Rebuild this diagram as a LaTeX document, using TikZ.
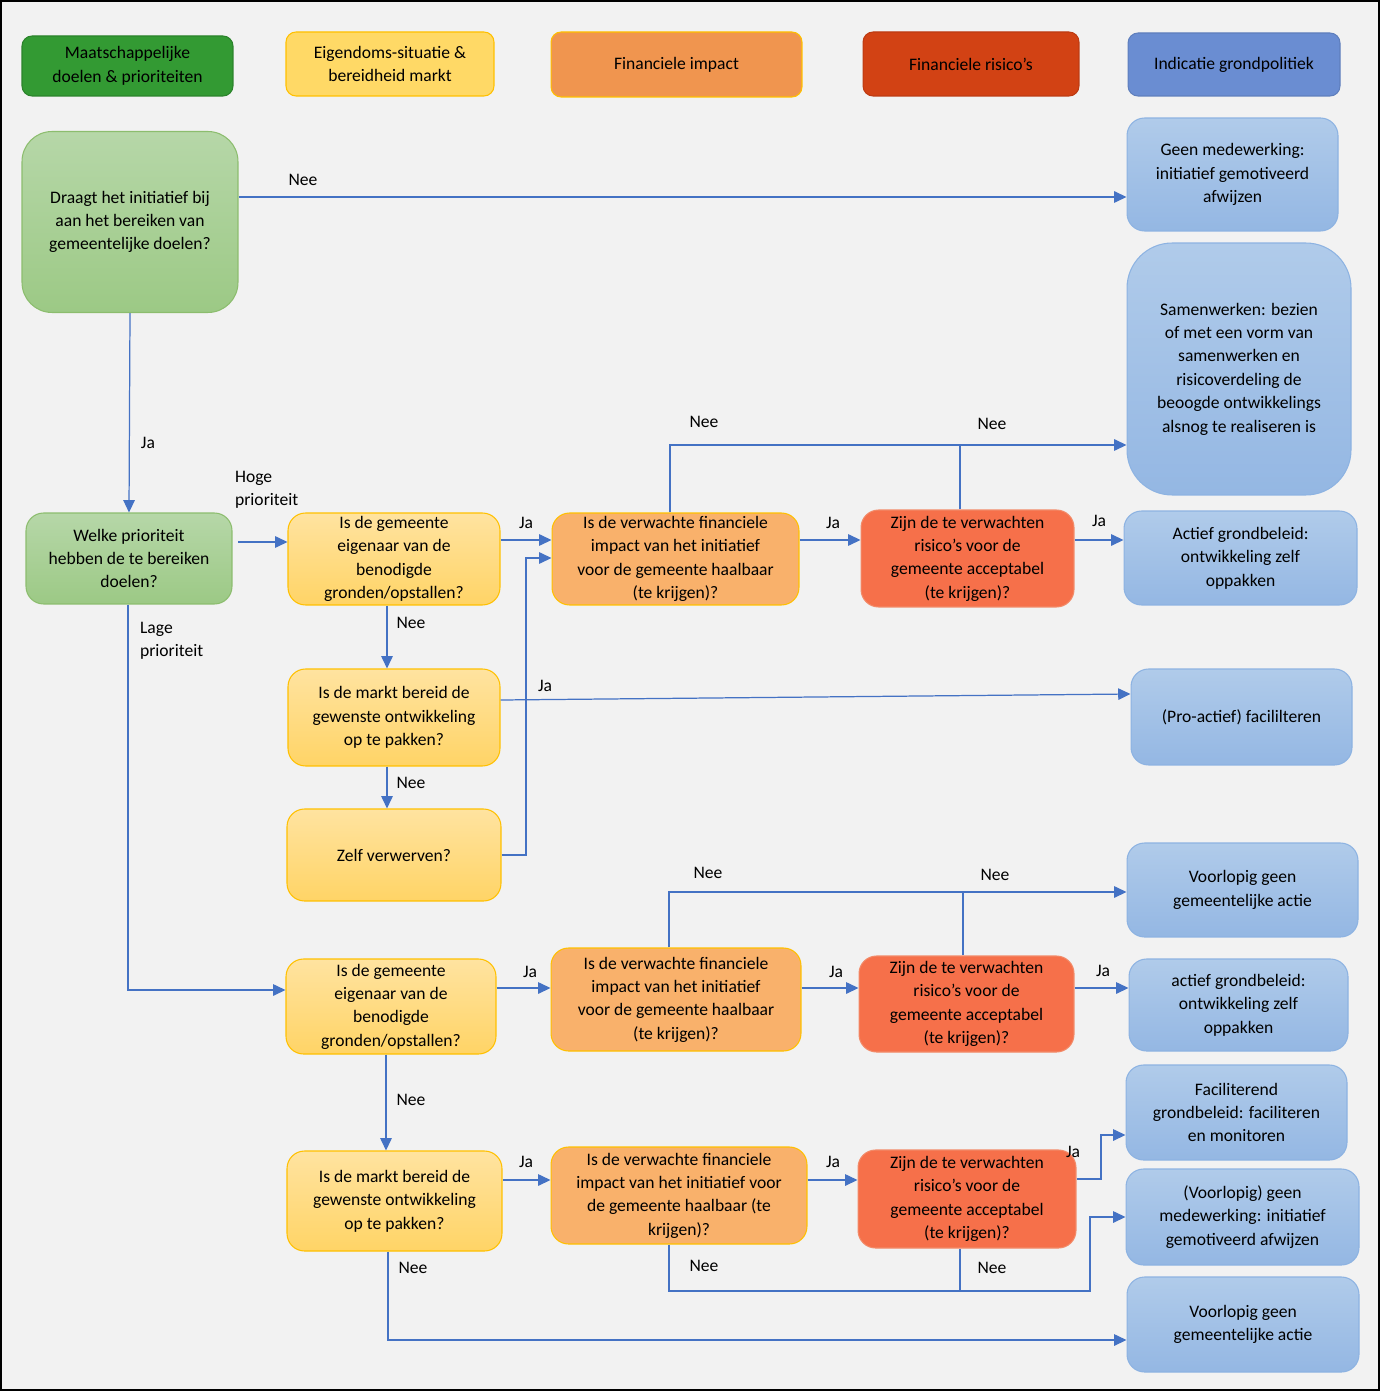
\documentclass[tikz,border=0pt]{standalone}
\usepackage{fontspec}
\setmainfont{Carlito}
\usepackage{xcolor}
\usepackage{tikz}
\usetikzlibrary{arrows.meta}
\definecolor{bgcol}{HTML}{F2F2F2}
\definecolor{linecol}{HTML}{4472C4}
\definecolor{hgreen}{HTML}{339A33}
\definecolor{hyellow}{HTML}{FFD966}
\definecolor{horange}{HTML}{F0954F}
\definecolor{hred}{HTML}{D24214}
\definecolor{hblue}{HTML}{6A8DD2}
\definecolor{gtop}{HTML}{B6D7A8}
\definecolor{gbot}{HTML}{9CC985}
\definecolor{gedge}{HTML}{8CBD6E}
\definecolor{ytop}{HTML}{FFE3A0}
\definecolor{ybot}{HTML}{FFD466}
\definecolor{yedge}{HTML}{FFC000}
\definecolor{ofill}{HTML}{F9B16B}
\definecolor{rfill}{HTML}{F6704A}
\definecolor{redge}{HTML}{F28A68}
\definecolor{btop}{HTML}{B0CBEA}
\definecolor{bbot}{HTML}{94B7E3}
\definecolor{bedge}{HTML}{8DB3E2}

\tikzset{
  every node/.style={font=\fontsize{10}{13.3}\selectfont, text=black},
  hdr/.style={draw, rounded corners=0.2cm, align=center, inner sep=0pt, line width=0.6pt},
  grnbox/.style={draw=gedge, top color=gtop, bottom color=gbot, rounded corners=0.35cm, align=center, inner sep=0pt, line width=0.6pt},
  yelbox/.style={draw=yedge, top color=ytop, bottom color=ybot, rounded corners=0.35cm, align=center, inner sep=0pt, line width=0.6pt},
  orabox/.style={draw=yedge, fill=ofill, rounded corners=0.35cm, align=center, inner sep=0pt, line width=0.6pt},
  redbox/.style={draw=redge, fill=rfill, rounded corners=0.35cm, align=center, inner sep=0pt, line width=0.6pt},
  blubox/.style={draw=bedge, top color=btop, bottom color=bbot, rounded corners=0.35cm, align=center, inner sep=0pt, line width=0.6pt},
  conn/.style={draw=linecol, line width=0.7pt, -{Triangle[length=7pt,width=6.5pt]}},
  plain/.style={draw=linecol, line width=0.7pt},
  lbl/.style={inner sep=1pt}
}

\begin{document}
\begin{tikzpicture}[x=0.02cm,y=-0.02cm]
\useasboundingbox (0,0) rectangle (1380,1391);
\fill[bgcol] (0,0) rectangle (1380,1391);
\draw[black,line width=1.1pt] (1,1) rectangle (1379,1390);

% header row
\node[hdr,draw=hgreen!85!black,fill=hgreen,minimum width=4.22cm,minimum height=1.2cm] (h1) at (127.5,66) {Maatschappelijke\\doelen \& prioriteiten};
\node[hdr,draw=yedge,fill=hyellow,minimum width=4.16cm,minimum height=1.28cm] (h2) at (390,64) {Eigendoms-situatie \&\\bereidheid markt};
\node[hdr,draw=yedge,fill=horange,minimum width=5.02cm,minimum height=1.3cm] (h3) at (676.5,64.5) {Financiele impact};
\node[hdr,draw=hred!90!black,fill=hred,minimum width=4.32cm,minimum height=1.28cm] (h4) at (971,64) {Financiele risico's};
\node[hdr,draw=hblue!90!black,fill=hblue,minimum width=4.24cm,minimum height=1.26cm] (h5) at (1234,64.5) {Indicatie grondpolitiek};

% questions
\node[grnbox,rounded corners=0.6cm,minimum width=4.32cm,minimum height=3.62cm] (q1) at (130,222) {Draagt het initiatief bij\\aan het bereiken van\\gemeentelijke doelen?};
\node[grnbox,minimum width=4.12cm,minimum height=1.82cm] (q2) at (129,558.5) {Welke prioriteit\\hebben de te bereiken\\doelen?};
\node[yelbox,minimum width=4.24cm,minimum height=1.84cm] (q3) at (394,559) {Is de gemeente\\eigenaar van de\\benodigde\\gronden/opstallen?};
\node[orabox,minimum width=4.94cm,minimum height=1.84cm] (q4) at (675.5,559) {Is de verwachte financiele\\impact van het initiatief\\voor de gemeente haalbaar\\(te krijgen)?};
\node[redbox,minimum width=4.26cm,minimum height=1.94cm] (q5) at (967.5,558.5) {Zijn de te verwachten\\risico's voor de\\gemeente acceptabel\\(te krijgen)?};
\node[yelbox,minimum width=4.24cm,minimum height=1.94cm] (q6) at (394,717.5) {Is de markt bereid de\\gewenste ontwikkeling\\op te pakken?};
\node[yelbox,minimum width=4.28cm,minimum height=1.84cm] (q7) at (394,855) {Zelf verwerven?};
\node[yelbox,minimum width=4.2cm,minimum height=1.9cm] (q8) at (391,1006.5) {Is de gemeente\\eigenaar van de\\benodigde\\gronden/opstallen?};
\node[orabox,minimum width=5cm,minimum height=2.06cm] (q9) at (676,999.5) {Is de verwachte financiele\\impact van het initiatief\\voor de gemeente haalbaar\\(te krijgen)?};
\node[redbox,minimum width=4.3cm,minimum height=1.92cm] (q10) at (966.5,1004) {Zijn de te verwachten\\risico's voor de\\gemeente acceptabel\\(te krijgen)?};
\node[yelbox,minimum width=4.3cm,minimum height=2cm] (q11) at (394.5,1201) {Is de markt bereid de\\gewenste ontwikkeling\\op te pakken?};
\node[orabox,minimum width=5.12cm,minimum height=1.94cm] (q12) at (679,1195.5) {Is de verwachte financiele\\impact van het initiatief voor\\de gemeente haalbaar (te\\krijgen)?};
\node[redbox,minimum width=4.36cm,minimum height=1.96cm] (q13) at (967,1199) {Zijn de te verwachten\\risico's voor de\\gemeente acceptabel\\(te krijgen)?};

% outcomes
\node[blubox,minimum width=4.22cm,minimum height=2.26cm] (r1) at (1232.5,174.5) {Geen medewerking:\\initiatief gemotiveerd\\afwijzen};
\node[blubox,rounded corners=0.9cm,minimum width=4.48cm,minimum height=5.04cm] (r2) at (1239,369) {Samenwerken: bezien\\of met een vorm van\\samenwerken en\\risicoverdeling de\\beoogde ontwikkelings\\alsnog te realiseren is};
\node[blubox,minimum width=4.66cm,minimum height=1.88cm] (r3) at (1240.5,558) {Actief grondbeleid:\\ontwikkeling zelf\\oppakken};
\node[blubox,minimum width=4.42cm,minimum height=1.92cm] (r4) at (1241.5,717) {(Pro-actief) facililteren};
\node[blubox,minimum width=4.62cm,minimum height=1.88cm] (r5) at (1242.5,890) {Voorlopig geen\\gemeentelijke actie};
\node[blubox,minimum width=4.38cm,minimum height=1.84cm] (r6) at (1238.5,1005) {actief grondbeleid:\\ontwikkeling zelf\\oppakken};
\node[blubox,minimum width=4.42cm,minimum height=1.9cm] (r7) at (1236.5,1112.5) {Faciliterend\\grondbeleid: faciliteren\\en monitoren};
\node[blubox,minimum width=4.66cm,minimum height=1.92cm] (r8) at (1242.5,1217) {(Voorlopig) geen\\medewerking: initiatief\\gemotiveerd afwijzen};
\node[blubox,minimum width=4.64cm,minimum height=1.9cm] (r9) at (1243,1324.5) {Voorlopig geen\\gemeentelijke actie};

% bends
\coordinate (m1) at (960,445);
\coordinate (k1) at (526,558);
\coordinate (m2) at (963,892);
\coordinate (k2) at (1101,1179);
\coordinate (m3) at (960,1291);

% connectors
\draw[conn] (q1.east |- 0,197) -- (r1.west |- 0,197);
\draw[conn] (q1.south) -- (q2.north);
\draw[conn] (238,542) -- (q3.west |- 0,542);
\draw[conn] (q2.south -| 128,0) |- (q8.west |- 0,990);
\draw[conn] (q3.east |- 0,540) -- (q4.west |- 0,540);
\draw[conn] (q3.south -| 387,0) -- (q6.north -| 387,0);
\draw[conn] (q4.east |- 0,540) -- (q5.west |- 0,540);
\draw[conn] (q5.east |- 0,540) -- (r3.west |- 0,540);
\draw[conn] (q4.north -| 670,0) |- (r2.west |- 0,445);
\draw[plain] (q5.north -| 960,0) -- (m1);
\draw[conn] (q6.east |- 0,700) -- (r4.west |- 0,694);
\draw[conn] (q6.south -| 387,0) -- (q7.north -| 387,0);
\draw[conn] (q7.east |- 0,855) -| (k1) -- (q4.west |- k1);
\draw[conn] (q8.east |- 0,988) -- (q9.west |- 0,988);
\draw[conn] (q9.east |- 0,988) -- (q10.west |- 0,988);
\draw[conn] (q10.east |- 0,988) -- (r6.west |- 0,988);
\draw[conn] (q9.north -| 669,0) |- (r5.west |- 0,892);
\draw[plain] (q10.north -| 963,0) -- (m2);
\draw[conn] (q8.south -| 386,0) -- (q11.north -| 386,0);
\draw[conn] (q11.east |- 0,1180) -- (q12.west |- 0,1180);
\draw[conn] (q12.east |- 0,1180) -- (q13.west |- 0,1180);
\draw[conn] (q13.east |- k2) -- (k2) |- (r7.west |- 0,1135);
\draw[conn] (q12.south -| 669,0) |- (1090,1291) |- (r8.west |- 0,1217);
\draw[plain] (q13.south -| 960,0) -- (m3);
\draw[conn] (q11.south -| 388,0) |- (r9.west |- 0,1340);

% labels
\node[lbl] (l1) at (303,180) {Nee};
\node[lbl] (l2) at (148,443) {Ja};
\node[lbl,anchor=west,align=left] (l3) at (233,490) {Hoge\\prioriteit};
\node[lbl,anchor=west,align=left] (l4) at (138,641) {Lage\\prioriteit};
\node[lbl] (l5) at (526,523) {Ja};
\node[lbl] (l6) at (411,623) {Nee};
\node[lbl] (l7) at (833,523) {Ja};
\node[lbl] (l8) at (1099,521) {Ja};
\node[lbl] (l9) at (704,422) {Nee};
\node[lbl] (l10) at (992,424) {Nee};
\node[lbl] (l11) at (545,686) {Ja};
\node[lbl] (l12) at (411,783) {Nee};
\node[lbl] (l13) at (530,972) {Ja};
\node[lbl] (l14) at (836,972) {Ja};
\node[lbl] (l15) at (1103,971) {Ja};
\node[lbl] (l16) at (708,873) {Nee};
\node[lbl] (l17) at (995,875) {Nee};
\node[lbl] (l18) at (411,1100) {Nee};
\node[lbl] (l19) at (526,1162) {Ja};
\node[lbl] (l20) at (833,1162) {Ja};
\node[lbl] (l21) at (1073,1152) {Ja};
\node[lbl] (l22) at (704,1266) {Nee};
\node[lbl] (l23) at (992,1268) {Nee};
\node[lbl] (l24) at (413,1268) {Nee};
\end{tikzpicture}
\end{document}
